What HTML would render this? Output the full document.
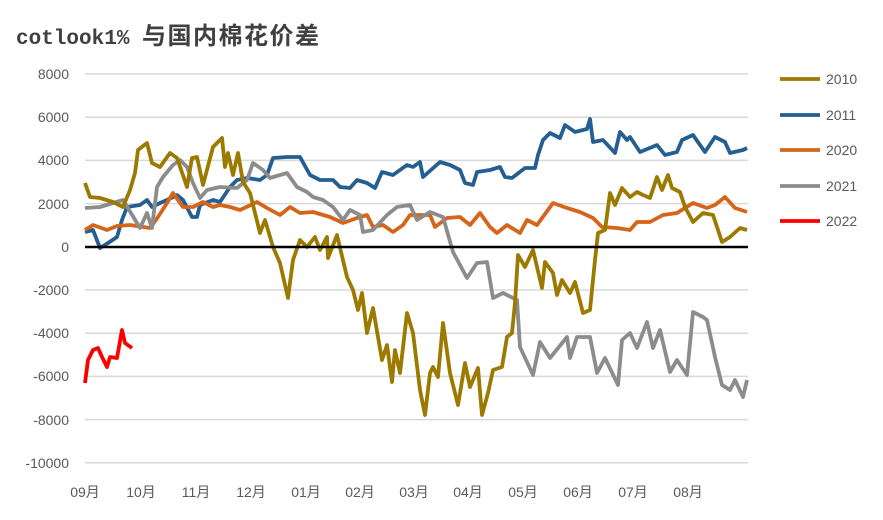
<!DOCTYPE html>
<html><head><meta charset="utf-8"><style>
body{margin:0;background:#fff;width:883px;height:515px;overflow:hidden}
text{font-family:"Liberation Sans","Noto Sans CJK SC",sans-serif}
</style></head><body>
<svg width="883" height="515" viewBox="0 0 883 515" xmlns="http://www.w3.org/2000/svg">
<text x="16" y="44" font-size="21" font-weight="bold" fill="#404040" style="font-family:'Liberation Mono',monospace">cotlook1%</text>
<text x="142" y="44" font-size="24" font-weight="bold" fill="#404040" letter-spacing="1.5" style="font-family:'WenQuanYi Zen Hei','Noto Sans CJK SC',sans-serif">与国内棉花价差</text>
<g stroke="#d9d9d9" stroke-width="1.5">
<line x1="85" x2="748" y1="74" y2="74"/><line x1="85" x2="748" y1="117.2" y2="117.2"/><line x1="85" x2="748" y1="160.4" y2="160.4"/><line x1="85" x2="748" y1="203.6" y2="203.6"/><line x1="85" x2="748" y1="290" y2="290"/><line x1="85" x2="748" y1="333.2" y2="333.2"/><line x1="85" x2="748" y1="376.4" y2="376.4"/><line x1="85" x2="748" y1="419.6" y2="419.6"/><line x1="85" x2="748" y1="462.8" y2="462.8"/>
</g>
<g font-size="14" fill="#595959" text-anchor="end">
<text x="69" y="79">8000</text><text x="69" y="122">6000</text><text x="69" y="165">4000</text><text x="69" y="209">2000</text><text x="69" y="252">0</text><text x="69" y="295">-2000</text><text x="69" y="338">-4000</text><text x="69" y="381">-6000</text><text x="69" y="425">-8000</text><text x="69" y="468">-10000</text>
</g>
<g font-size="14" fill="#595959" text-anchor="middle">
<text x="85" y="497">09月</text><text x="141" y="497">10月</text><text x="196" y="497">11月</text><text x="251" y="497">12月</text><text x="306" y="497">01月</text><text x="360" y="497">02月</text><text x="414" y="497">03月</text><text x="468" y="497">04月</text><text x="523" y="497">05月</text><text x="578" y="497">06月</text><text x="633" y="497">07月</text><text x="688" y="497">08月</text>
</g>
<g fill="none" stroke-width="3.8" stroke-linejoin="round">
<polyline stroke="#255E91" points="85,232 93,230 100,248 108,243 117,237 122,220 127,207 140,205 147,200 152,207 160,203 167,200 177,195 183,200 192,217 197,217 200,205 213,200 220,202 230,187 237,180 247,178 260,180 267,175 273,158 287,157 300,157 310,175 320,180 333,180 340,187 350,188 357,180 367,183 375,188 382,172 393,175 400,170 407,165 413,167 420,162 423,177 440,162 450,165 460,170 465,183 473,185 477,172 490,170 500,167 505,177 512,178 525,168 535,168 538,155 543,140 550,133 560,138 565,125 575,132 587,129 590,119 593,142 603,140 615,153 620,132 627,140 630,137 640,152 657,145 665,155 677,152 682,140 693,135 705,152 715,137 725,142 730,153 743,150 747,148"/>
<polyline stroke="#D4651A" points="85,230 93,225 107,230 117,226 130,225 150,228 158,217 167,203 173,193 183,207 193,207 203,202 213,207 220,205 230,207 240,210 257,202 267,208 280,215 290,207 300,213 313,212 330,217 343,223 357,218 367,215 373,227 383,225 393,232 403,225 410,215 420,215 430,215 435,227 447,218 460,217 470,225 480,213 490,227 497,233 507,225 520,233 527,220 537,225 553,203 567,208 580,212 593,218 602,227 617,228 630,230 637,222 650,222 663,215 677,213 693,203 707,208 715,205 725,197 735,208 747,212"/>
<polyline stroke="#8C8C8C" points="85,208 100,207 123,200 140,228 147,213 152,228 157,187 163,177 173,165 180,160 187,167 193,183 200,198 207,190 220,187 237,188 247,180 253,163 263,170 270,178 280,175 287,173 297,187 307,192 313,197 323,200 333,207 343,220 350,210 360,215 363,232 373,230 387,215 397,207 410,205 417,220 430,212 443,217 453,252 467,278 477,263 487,262 493,298 503,293 517,300 520,347 533,375 540,342 550,358 567,337 570,358 577,337 590,337 597,373 605,358 618,385 622,340 630,333 637,348 647,322 653,348 660,330 670,372 677,360 687,375 693,312 703,317 707,320 715,357 722,385 730,390 735,380 743,397 747,380"/>
<polyline stroke="#9C7A00" points="85,183 90,197 100,198 113,202 123,207 130,190 135,173 138,150 147,143 152,163 160,167 170,153 177,158 187,187 192,158 197,157 203,185 213,147 222,138 225,167 228,153 233,175 238,153 243,182 250,193 260,233 265,220 273,247 280,263 288,298 293,260 300,240 307,247 315,237 320,250 327,237 328,258 337,235 347,277 353,290 358,310 362,293 367,333 373,308 382,360 387,345 392,382 395,350 400,373 407,313 413,333 420,390 425,415 430,373 433,367 438,377 443,323 450,373 458,405 465,363 470,387 478,368 482,415 488,393 493,370 502,367 507,337 512,333 515,303 518,255 525,267 533,250 542,288 545,262 553,273 557,295 562,280 570,293 575,282 583,313 590,310 595,260 598,233 605,230 610,193 615,205 622,188 630,197 637,192 643,195 650,198 657,177 662,190 668,175 672,188 680,192 685,207 693,222 703,213 713,215 722,242 730,237 740,228 747,230"/>
<polyline stroke="#FF0000" points="85,383 88,360 93,350 98,348 102,357 107,367 110,357 117,358 122,330 125,343 132,348"/>
</g>
<line x1="85" x2="748" y1="247" y2="247" stroke="#000" stroke-width="2.5"/>
<g stroke-width="3.8">
<line x1="780" x2="820" y1="79" y2="79" stroke="#9C7A00"/>
<line x1="780" x2="820" y1="115" y2="115" stroke="#255E91"/>
<line x1="780" x2="820" y1="150" y2="150" stroke="#D4651A"/>
<line x1="780" x2="820" y1="186" y2="186" stroke="#8C8C8C"/>
<line x1="780" x2="820" y1="221" y2="221" stroke="#FF0000"/>
</g>
<g font-size="14" fill="#595959">
<text x="826" y="84">2010</text><text x="826" y="120">2011</text><text x="826" y="155">2020</text><text x="826" y="191">2021</text><text x="826" y="226">2022</text>
</g>
</svg>
</body></html>
